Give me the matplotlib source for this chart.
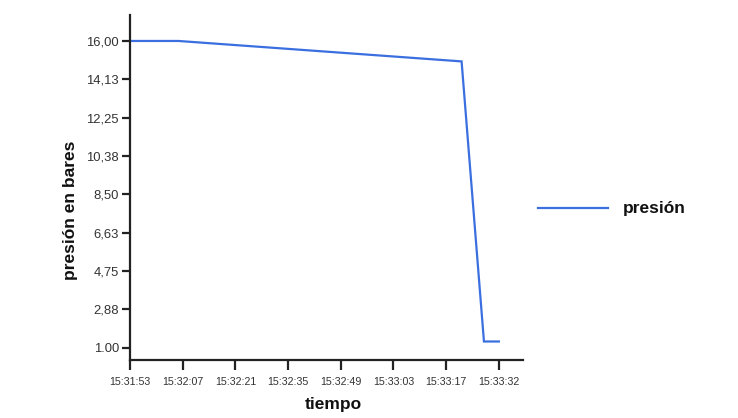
import matplotlib
matplotlib.use("Agg")
import matplotlib.pyplot as plt
import numpy as np

# ---- data ----
start_time = "15:31:53"
times = ["15:31:53", "15:32:06", "15:33:22", "15:33:28", "15:33:32"]
presion = [16.0, 16.0, 15.0, 1.3, 1.3]
y_ticks = [1.00, 2.875, 4.75, 6.625, 8.50, 10.375, 12.25, 14.125, 16.00]
y_tick_labels = ["1.00", "2,88", "4,75", "6,63", "8,50", "10,38", "12,25", "14,13", "16,00"]
x_tick_labels = ["15:31:53", "15:32:07", "15:32:21", "15:32:35", "15:32:49",
                 "15:33:03", "15:33:17", "15:33:32"]
series_name = "presión"
x_label = "tiempo"
y_label = "presión en bares"


def to_sec(s):
    h, m, sec = (int(v) for v in s.split(":"))
    return h * 3600 + m * 60 + sec


t0 = to_sec(start_time)
xs = [to_sec(t) - t0 for t in times]
x_end = to_sec(x_tick_labels[-1]) - t0
x_ticks = np.linspace(0, x_end, len(x_tick_labels))

plt.rcParams['font.family'] = ['Liberation Sans', 'DejaVu Sans']

fig = plt.figure(figsize=(7.38, 4.18), dpi=100)
ax = fig.add_axes([130 / 738, 1 - 360.3 / 418, (522.7 - 130) / 738, (360.3 - 15) / 418])

line, = ax.plot(xs, presion, color="#3b6fe0", lw=1.6, label=series_name,
                solid_joinstyle="miter")

ax.set_xlim(0, 105.4)
ax.set_ylim(0.38, 17.27)
ax.set_yticks(y_ticks)
ax.set_yticklabels(y_tick_labels)
ax.set_xticks(x_ticks)
ax.set_xticklabels(x_tick_labels)

for s in ["top", "right"]:
    ax.spines[s].set_visible(False)
for s in ["left", "bottom"]:
    ax.spines[s].set_linewidth(1.6)
    ax.spines[s].set_color("#222222")

ax.tick_params(axis="y", length=6, width=1.6, color="#222222", labelsize=9.4,
               labelcolor="#333333", pad=2)
ax.tick_params(axis="x", length=7, width=1.6, color="#222222", labelsize=7.7,
               labelcolor="#333333", pad=5)

fig.text(333 / 738, 1 - 404 / 418, x_label, ha="center", va="center",
         fontsize=12.5, fontweight="bold", color="#111111")
fig.text(70 / 738, 1 - 210 / 418, y_label, ha="center", va="center",
         rotation=90, fontsize=12.5, fontweight="bold", color="#111111")

# legend
fig.add_artist(plt.Line2D([538 / 738, 608 / 738], [1 - 208 / 418, 1 - 208 / 418],
                          color="#3b6fe0", lw=1.6, transform=fig.transFigure))
fig.text(623 / 738, 1 - 209 / 418, series_name, ha="left", va="center",
         fontsize=12.5, fontweight="bold", color="#111111")

fig.savefig("out.png", dpi=100, facecolor="white")
